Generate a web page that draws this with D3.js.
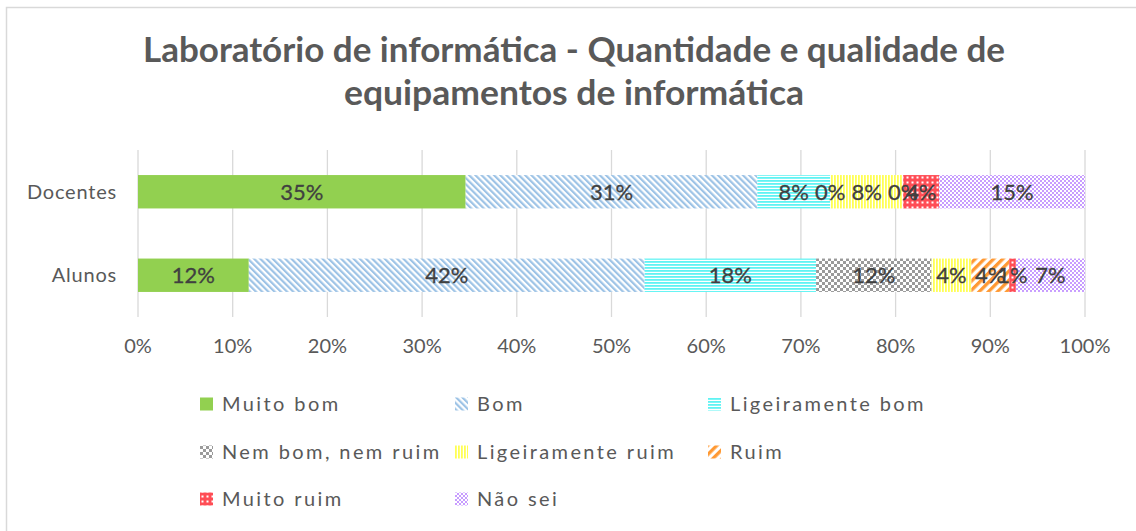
<!DOCTYPE html>
<html><head><meta charset="utf-8">
<script src="https://cdn.jsdelivr.net/npm/d3@7"></script>
<style>
html,body{margin:0;padding:0;background:#fff;}
svg{display:block;font-family:Lato,"Noto Sans",sans-serif;}
</style></head>
<body>
<svg id="chart" width="1136" height="531"></svg>
<script>
// ---- data ----
const categories = ["Docentes", "Alunos"];
const seriesNames = ["Muito bom", "Bom", "Ligeiramente bom", "Nem bom, nem ruim", "Ligeiramente ruim", "Ruim", "Muito ruim", "Não sei"];
const docentesValues = [34.6, 30.8, 7.7, 0, 7.7, 0, 3.8, 15.4];
const alunosValues   = [11.7, 41.8, 18.1, 12.2, 4.2, 4.0, 0.7, 7.3];
const tickValues = [0, 10, 20, 30, 40, 50, 60, 70, 80, 90, 100];
const titleLines = ["Laboratório de informática - Quantidade e qualidade de", "equipamentos de informática"];

const svg = d3.select("#chart");
const defs = svg.append("defs");

// ---- patterns ----
function pat(id, w, h, transform) {
  const p = defs.append("pattern").attr("id", id).attr("patternUnits", "userSpaceOnUse")
    .attr("width", w).attr("height", h);
  if (transform) p.attr("patternTransform", transform);
  p.append("rect").attr("width", w).attr("height", h).attr("fill", "#fff");
  return p;
}
// Bom: "\" stripes
pat("p1", 4.4, 10, "rotate(-45)").append("rect").attr("width", 2.2).attr("height", 10).attr("fill", "#9dc3e6");
// Ligeiramente bom: horizontal lines
pat("p2", 10, 3).append("rect").attr("width", 10).attr("height", 1.8).attr("fill", "#5ff3f3");
// Nem bom nem ruim: checker
{ const p = pat("p3", 6, 6);
  p.append("rect").attr("width", 3).attr("height", 3).attr("fill", "#9a9a9a");
  p.append("rect").attr("x", 3).attr("y", 3).attr("width", 3).attr("height", 3).attr("fill", "#9a9a9a"); }
// Ligeiramente ruim: vertical lines
pat("p4", 3, 10).append("rect").attr("width", 1.8).attr("height", 10).attr("fill", "#ffff55");
// Ruim: "/" thick stripes
pat("p5", 6.5, 10, "rotate(45)").append("rect").attr("width", 3.3).attr("height", 10).attr("fill", "#ff9933");
// Muito ruim: red with white dots
{ const p = defs.append("pattern").attr("id", "p6").attr("patternUnits", "userSpaceOnUse").attr("width", 5).attr("height", 5);
  p.append("rect").attr("width", 5).attr("height", 5).attr("fill", "#ff4d55");
  p.append("rect").attr("x", 1.5).attr("y", 1.5).attr("width", 2).attr("height", 2).attr("fill", "#fff"); }
// Não sei: fine purple checker
{ const p = pat("p7", 4, 4);
  p.append("rect").attr("width", 2).attr("height", 2).attr("fill", "#c79cff");
  p.append("rect").attr("x", 2).attr("y", 2).attr("width", 2).attr("height", 2).attr("fill", "#c79cff"); }

const fills = ["#92d050", "url(#p1)", "url(#p2)", "url(#p3)", "url(#p4)", "url(#p5)", "url(#p6)", "url(#p7)"];

// ---- frame ----
svg.append("path").attr("d", "M6.5,540 V7.5 H1140").attr("fill", "none").attr("stroke", "#d9d9d9").attr("stroke-width", 1.5);

// ---- title ----
svg.append("g").selectAll("text").data(titleLines).join("text")
  .attr("x", 574).attr("y", (d, i) => 62 + i * 43)
  .attr("text-anchor", "middle").attr("font-weight", "bold").attr("font-size", 34)
  .attr("fill", "#595959")
  .attr("textLength", (d, i) => i === 0 ? 862 : 460).attr("lengthAdjust", "spacingAndGlyphs")
  .text(d => d);

// ---- scales ----
const x = d3.scaleLinear().domain([0, 100]).range([138, 1085]);
const y = d3.scaleBand().domain(categories).range([150, 317]).paddingInner(0.6).paddingOuter(0.3);

// grid
svg.append("g").selectAll("line").data(tickValues).join("line")
  .attr("x1", d => x(d)).attr("x2", d => x(d)).attr("y1", 150).attr("y2", 317)
  .attr("stroke", "#d9d9d9").attr("stroke-width", 1.3);

// x tick labels
svg.append("g").selectAll("text").data(tickValues).join("text")
  .attr("x", d => x(d)).attr("y", 353).attr("text-anchor", "middle")
  .attr("font-size", 20).attr("fill", "#595959").text(d => d + "%");

// y labels
svg.append("g").selectAll("text").data(categories).join("text")
  .attr("x", 117).attr("y", d => y(d) + y.bandwidth() / 2 + 7).attr("text-anchor", "end")
  .attr("font-size", 20).attr("letter-spacing", 0.8).attr("fill", "#595959").text(d => d);

// ---- stacked bars ----
const rows = categories.map((c, ci) => {
  const vals = ci === 0 ? docentesValues : alunosValues;
  const o = { cat: c };
  seriesNames.forEach((s, i) => o[s] = vals[i]);
  return o;
});
const stack = d3.stack().keys(seriesNames)(rows);

const layers = svg.append("g").selectAll("g").data(stack).join("g")
  .attr("fill", (d, i) => fills[i]);
layers.selectAll("rect").data(d => d).join("rect")
  .attr("x", d => x(d[0])).attr("width", d => x(d[1]) - x(d[0]))
  .attr("y", d => y(d.data.cat)).attr("height", y.bandwidth());

// data labels
const lbl = svg.append("g");
stack.forEach(layer => {
  layer.forEach(d => {
    lbl.append("text")
      .attr("x", x((d[0] + d[1]) / 2)).attr("y", y(d.data.cat) + y.bandwidth() / 2 + 8)
      .attr("text-anchor", "middle").attr("font-size", 22).attr("fill", "#404040")
      .attr("stroke", "#404040").attr("stroke-width", 0.3)
      .text(Math.round(d[1] - d[0]) + "%");
  });
});

// ---- legend ----
const legCols = [200, 455, 708];
const legRows = [404, 452, 499];
const leg = svg.append("g").selectAll("g").data(seriesNames).join("g")
  .attr("transform", (d, i) => `translate(${legCols[i % 3]},${legRows[Math.floor(i / 3)]})`);
leg.append("rect").attr("x", 0).attr("y", -6.5).attr("width", 13).attr("height", 13)
  .attr("fill", (d, i) => fills[i]);
leg.append("text").attr("x", 22).attr("y", 7).attr("font-size", 20).attr("letter-spacing", 2.4)
  .attr("fill", "#595959").text(d => d);
</script>
</body></html>
